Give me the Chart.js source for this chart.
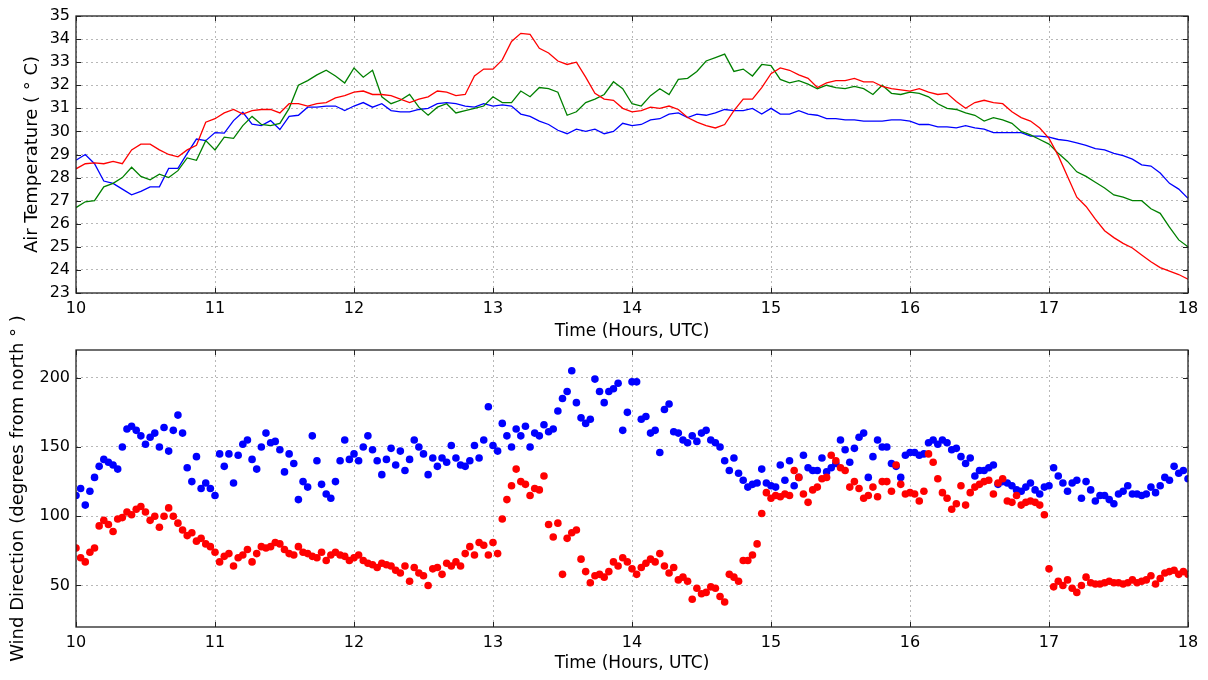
<!DOCTYPE html>
<html>
<head>
<meta charset="utf-8">
<script src="https://cdn.jsdelivr.net/npm/chart.js@4.4.1/dist/chart.umd.min.js"></script>
<style>
  html, body { margin: 0; padding: 0; background: #fff; }
  #wrap { position: relative; width: 1208px; height: 680px; }
  canvas { position: absolute; left: 0; }
  #tempChart { top: 0; }
  #windChart { top: 290px; }
</style>
</head>
<body>
<div id="wrap">
  <canvas id="tempChart" width="1208" height="345"></canvas>
  <canvas id="windChart" width="1208" height="390"></canvas>
</div>
<script>
// sampling grid of both panels (minutes between samples, starting 10:00 UTC)
const startHour = 10;
const tempStepMin = 4;
const windStepMin = 2;

const hourTicks = [10, 11, 12, 13, 14, 15, 16, 17, 18];
const tempTicks = [23, 24, 25, 26, 27, 28, 29, 30, 31, 32, 33, 34, 35];
const windTicks = [50, 100, 150, 200];

// air temperature, three sensors (deg C), one value every 4 min
const tempRed = [
  28.38, 28.6, 28.64, 28.6, 28.7, 28.6, 29.2, 29.45, 29.45, 29.2,
  29.0, 28.9, 29.2, 29.4, 30.4, 30.55, 30.8, 30.95, 30.75, 30.9,
  30.95, 30.95, 30.8, 31.2, 31.2, 31.1, 31.2, 31.25, 31.45, 31.55,
  31.7,
  31.75, 31.6, 31.6, 31.55, 31.4, 31.25, 31.4, 31.5, 31.75, 31.7,
  31.55, 31.6, 32.4, 32.7, 32.7, 33.1, 33.9, 34.25, 34.2, 33.6,
  33.4, 33.05, 32.9, 33.0, 32.35, 31.65, 31.4, 31.35, 31.0, 30.85,
  30.9, 31.05, 31.0, 31.1, 30.95, 30.6, 30.4, 30.25, 30.15, 30.3,
  30.9, 31.4, 31.4, 31.9, 32.5, 32.75, 32.65, 32.45, 32.3, 31.9,
  32.1, 32.2, 32.2, 32.3, 32.15, 32.15, 31.95, 31.85, 31.8, 31.75,
  31.85, 31.7, 31.6, 31.65, 31.3, 31.0, 31.25, 31.35, 31.25, 31.2,
  30.85, 30.6, 30.45, 30.15, 29.7, 28.95, 28.05, 27.15, 26.75, 26.2,
  25.7, 25.4, 25.15, 24.95, 24.65, 24.35, 24.1, 23.95, 23.8, 23.6
];
const tempGreen = [
  26.7, 26.95, 27.0, 27.6, 27.75, 28.0, 28.45, 28.05, 27.9, 28.15,
  28.0, 28.3, 28.85, 28.75, 29.6, 29.2, 29.75, 29.7, 30.25, 30.65,
  30.3, 30.25, 30.35, 31.0, 32.0, 32.2, 32.45, 32.65, 32.4, 32.1,
  32.75,
  32.35, 32.65, 31.5, 31.2, 31.35, 31.6, 31.05, 30.7, 31.05, 31.2,
  30.8, 30.9, 31.0, 31.1, 31.5, 31.25, 31.25, 31.75, 31.5, 31.9,
  31.85, 31.7, 30.7, 30.85, 31.25, 31.4, 31.6, 32.15, 31.85, 31.2,
  31.1, 31.55, 31.85, 31.6, 32.25, 32.3, 32.6, 33.05, 33.2, 33.35,
  32.6, 32.7, 32.4, 32.9, 32.85, 32.25, 32.1, 32.2, 32.05, 31.85,
  32.0, 31.9, 31.85, 31.95, 31.85, 31.6, 32.0, 31.65, 31.6, 31.7,
  31.65, 31.5, 31.2, 31.0, 30.95, 30.8, 30.7, 30.45, 30.6, 30.5,
  30.35, 30.0, 29.85, 29.65, 29.45, 29.05, 28.7, 28.25, 28.05, 27.8,
  27.55, 27.25, 27.15, 27.0, 27.0, 26.65, 26.45, 25.85, 25.3, 25.0
];
const tempBlue = [
  28.75, 29.0, 28.6, 27.85, 27.75, 27.5, 27.25, 27.4, 27.6, 27.6,
  28.4, 28.4, 29.05, 29.67, 29.6, 29.95, 29.93, 30.47, 30.83, 30.32,
  30.25, 30.47, 30.08, 30.65, 30.7, 31.05, 31.05, 31.1, 31.1, 30.9,
  31.1,
  31.25, 31.05, 31.2, 30.9, 30.85, 30.85, 30.95, 31.0, 31.2, 31.25,
  31.2, 31.1, 31.05, 31.2, 31.1, 31.15, 31.1, 30.75, 30.65, 30.45,
  30.3, 30.05, 29.9, 30.1, 30.0, 30.1, 29.9, 30.0, 30.35, 30.25,
  30.3, 30.5, 30.55, 30.75, 30.8, 30.6, 30.75, 30.7, 30.8, 30.95,
  30.9, 30.9, 31.0, 30.75, 31.0, 30.75, 30.75, 30.9, 30.75, 30.7,
  30.55, 30.55, 30.5, 30.5, 30.45, 30.45, 30.45, 30.5, 30.5, 30.45,
  30.3, 30.3, 30.2, 30.2, 30.15, 30.25, 30.15, 30.1, 29.95, 29.95,
  29.95, 29.95, 29.8, 29.8, 29.75, 29.65, 29.6, 29.5, 29.4, 29.25,
  29.2, 29.05, 28.95, 28.8, 28.55, 28.5, 28.2, 27.75, 27.5, 27.1
];

// wind direction (degrees from north), two sensors, one value every 2 min
const windBlue = [
  115, 120, 108, 118, 128, 136, 141, 139, 137, 134,
  150, 163, 165, 162, 158, 152, 157, 160, 150, 164,
  147, 162, 173, 160, 135, 125, 143, 120, 124, 120,
  115, 145, 136, 145, 124, 144, 152, 155, 141, 134,
  150, 160, 153, 154, 148, 132, 145, 138, 112, 125,
  121, 158, 140, 123, 116, 113, 125, 140, 155, 141,
  145,
  140, 150, 158, 148, 140, 130, 141, 149, 137, 147,
  133, 141, 155, 150, 145, 130, 142, 136, 142, 139,
  151, 142, 137, 136, 140, 151, 142, 155, 179, 151,
  147, 167, 158, 150, 163, 158, 165, 150, 160, 158,
  166, 161, 163, 176, 185, 190, 205, 182, 171, 167,
  170, 199, 190, 182, 190, 192, 196, 162, 175, 197,
  197, 170, 172, 160, 162, 146, 177, 181, 161, 160,
  155, 153, 158, 154, 160, 162, 155, 153, 150, 140,
  133, 142, 131, 126, 121, 123, 124, 134, 124, 122,
  121, 137, 126, 140, 122, 128, 144, 135, 133, 133,
  142, 132, 135, 138, 155, 148, 139, 149, 157, 160,
  128, 143, 155, 150, 150, 138, 136, 128, 144, 146,
  146, 144, 145, 153, 155, 152, 155, 153, 148, 149,
  143, 138, 142, 129, 133, 133, 135, 137, 123, 125,
  124, 122, 119, 118, 121, 124, 119, 116, 121, 122,
  135, 129, 124, 118, 124, 126, 113, 125, 119, 111,
  115, 115, 112, 109, 116, 118, 122, 116, 116, 115,
  116, 121, 117, 122, 128, 126, 136, 131, 133, 127
];
const windRed = [
  77, 70, 67, 74, 77, 93, 97, 94, 89, 98,
  99, 103, 101, 105, 107, 103, 97, 100, 92, 100,
  106, 100, 95, 90, 86, 88, 82, 84, 80, 78,
  74, 67, 71, 73, 64, 70, 72, 76, 67, 73,
  78, 77, 78, 81, 80, 76, 73, 72, 78, 74,
  73, 71, 70, 74, 68, 72, 74, 72, 71, 68,
  70,
  72, 68, 66, 65, 63, 66, 65, 64, 61, 59,
  64, 53, 63, 59, 57, 50, 62, 63, 58, 66,
  64, 67, 64, 73, 78, 72, 81, 79, 72, 81,
  73, 98, 112, 122, 134, 125, 123, 115, 120, 119,
  129, 94, 85, 95, 58, 84, 88, 90, 69, 60,
  52, 57, 58, 56, 60, 67, 64, 70, 67, 62,
  58, 63, 66, 69, 67, 73, 64, 59, 63, 54,
  56, 53, 40, 48, 44, 45, 49, 48, 42, 38,
  58, 56, 53, 68, 68, 72, 80, 102, 117, 113,
  115, 114, 116, 115, 133, 128, 116, 110, 119, 121,
  127, 128, 144, 140, 135, 133, 121, 125, 120, 113,
  115, 121, 114, 125, 125, 118, 137, 123, 116, 117,
  116, 111, 118, 145, 139, 127, 117, 113, 105, 109,
  122, 108, 117, 121, 123, 125, 126, 116, 124, 127,
  111, 110, 115, 108, 110, 111, 110, 108, 101, 62,
  49, 53, 50, 54, 48, 45, 50, 56, 52, 51,
  51, 52, 53, 52, 52, 51, 52, 54, 52, 53,
  54, 57, 51, 55, 59, 60, 61, 58, 60, 58
];

const toPoints = (vals, step) => vals.map((v, i) => ({ x: startHour + i * step / 60, y: v }));

const FONT = 'DejaVu Sans, Verdana, sans-serif';
const gridStyle = { color: '#b8b8b8', lineWidth: 1, drawTicks: false };
const borderStyle = { display: false, dash: [2, 3] };

// plot frame + inward tick marks like the original
const framePlugin = {
  id: 'frame',
  afterDraw(chart) {
    const { ctx, chartArea: a, scales } = chart;
    ctx.save();
    ctx.strokeStyle = '#222';
    ctx.lineWidth = 1;
    ctx.beginPath();
    scales.x.ticks.forEach(t => {
      const px = Math.round(scales.x.getPixelForValue(t.value)) + 0.5;
      ctx.moveTo(px, a.bottom); ctx.lineTo(px, a.bottom - 5);
      ctx.moveTo(px, a.top); ctx.lineTo(px, a.top + 5);
    });
    scales.y.ticks.forEach(t => {
      const py = Math.round(scales.y.getPixelForValue(t.value)) + 0.5;
      ctx.moveTo(a.left, py); ctx.lineTo(a.left + 5, py);
      ctx.moveTo(a.right, py); ctx.lineTo(a.right - 5, py);
    });
    ctx.stroke();
    ctx.lineWidth = 1.3;
    ctx.strokeRect(a.left, a.top, a.right - a.left, a.bottom - a.top);
    ctx.restore();
  }
};

function xAxis(height, titlePad) {
  return {
    type: 'linear', min: 10, max: 18,
    afterBuildTicks: s => { s.ticks = hourTicks.map(v => ({ value: v })); },
    afterFit: s => { s.height = height; },
    grid: gridStyle,
    border: borderStyle,
    ticks: { color: '#000', padding: 6, maxRotation: 0, font: { family: FONT, size: 16 } },
    title: { display: true, text: 'Time (Hours, UTC)', color: '#000',
             padding: { top: 0, bottom: titlePad }, font: { family: FONT, size: 17 } }
  };
}

function yAxis(min, max, ticks, title, titlePad) {
  return {
    type: 'linear', min: min, max: max,
    afterBuildTicks: s => { s.ticks = ticks.map(v => ({ value: v })); },
    afterFit: s => { s.width = 76; },
    grid: gridStyle,
    border: borderStyle,
    ticks: { color: '#000', padding: 6, font: { family: FONT, size: 16 } },
    title: { display: true, text: title, color: '#000',
             padding: { top: titlePad, bottom: 0 }, font: { family: FONT, size: 18 } }
  };
}

const common = {
  responsive: false,
  animation: false,
  events: [],
  plugins: { legend: { display: false }, tooltip: { enabled: false } }
};

new Chart(document.getElementById('tempChart'), {
  type: 'line',
  data: {
    datasets: [
      { data: toPoints(tempRed, tempStepMin), borderColor: '#ff0000', order: 0 },
      { data: toPoints(tempGreen, tempStepMin), borderColor: '#008000', order: 1 },
      { data: toPoints(tempBlue, tempStepMin), borderColor: '#0000ff', order: 2 }
    ].map(d => Object.assign(d, { borderWidth: 1.3, pointRadius: 0, tension: 0, fill: false }))
  },
  options: Object.assign({}, common, {
    layout: { padding: { left: 0, right: 20, top: 16, bottom: 0 } },
    scales: {
      x: xAxis(52, 3),
      y: yAxis(23, 35, tempTicks, 'Air Temperature ( \u00B0 C)', 22)
    }
  }),
  plugins: [framePlugin]
});

new Chart(document.getElementById('windChart'), {
  type: 'scatter',
  data: {
    datasets: [
      { data: toPoints(windRed, windStepMin), backgroundColor: '#ff0000', order: 0 },
      { data: toPoints(windBlue, windStepMin), backgroundColor: '#0000ff', order: 1 }
    ].map(d => Object.assign(d, { pointRadius: 3.8, borderWidth: 0, showLine: false }))
  },
  options: Object.assign({}, common, {
    layout: { padding: { left: 0, right: 20, top: 60, bottom: 0 } },
    scales: {
      x: xAxis(53, 6),
      y: yAxis(20, 220, windTicks, 'Wind Direction (degrees from north \u00B0 )', 8)
    }
  }),
  plugins: [framePlugin]
});
</script>
</body>
</html>
